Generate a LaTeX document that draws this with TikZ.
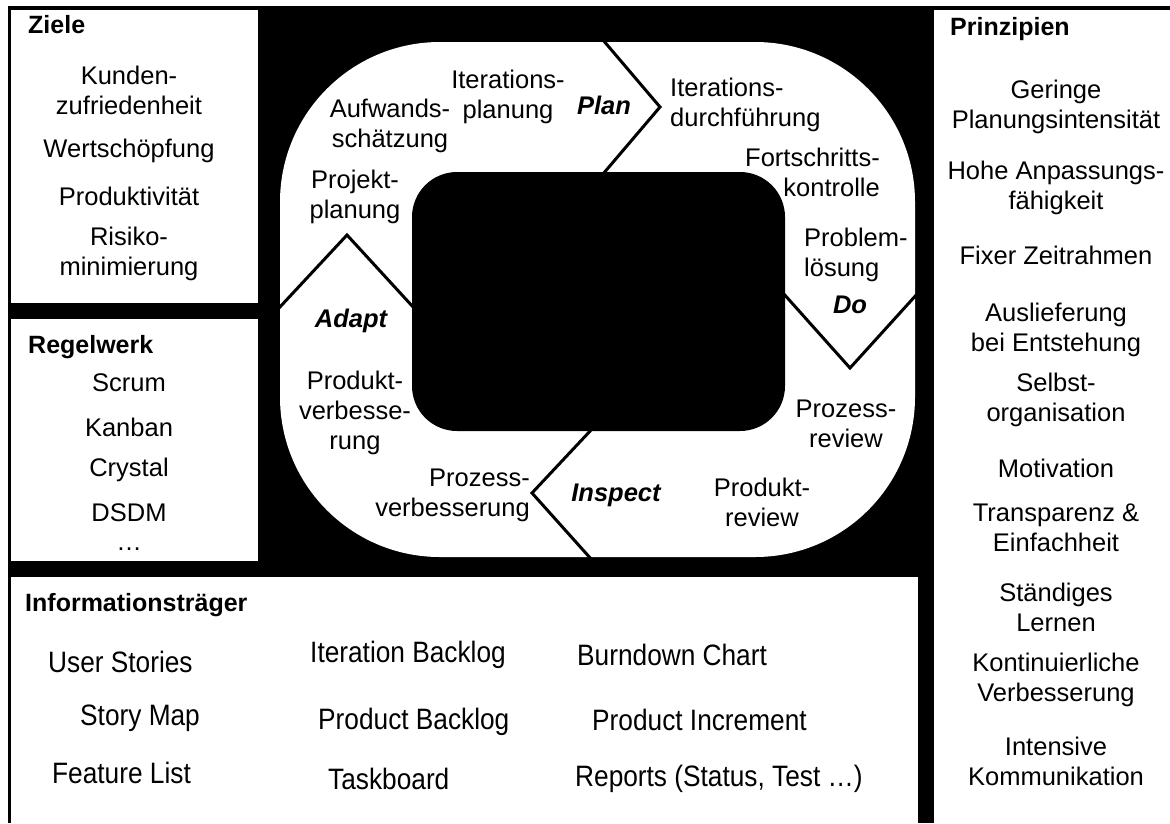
\documentclass[tikz,border=0pt]{standalone}
\usepackage{fontspec}
\setmainfont{Liberation Sans}
\newfontfamily\narrowfont[FakeStretch=0.89]{Liberation Sans}
\begin{document}
\begin{tikzpicture}[x=1pt,y=-1pt,
  txt/.style={inner sep=0pt, font=\fontsize{25.5}{30}\selectfont, align=center},
  txtl/.style={txt, align=left},
  txtr/.style={txt, align=right},
  head/.style={inner sep=0pt, anchor=west, font=\fontsize{25}{30}\selectfont\bfseries},
  phase/.style={inner sep=0pt, font=\fontsize{25.5}{30}\selectfont\bfseries\itshape},
  info/.style={inner sep=0pt, anchor=west, font=\narrowfont\fontsize{29.5}{34}\selectfont},
  panel/.style={fill=white},
  gap/.style={line width=3pt, line join=miter}
]
\useasboundingbox (0,0) rectangle (1170,823);
\fill[white] (0,0) rectangle (1170,823);
\fill[black] (8,6) rectangle (1170,823);
% panels
\fill[panel] (11,10) rectangle (258,303);
\fill[panel] (11,319) rectangle (258,561);
\fill[panel] (11,577) rectangle (918,823);
\fill[panel] (934,10) rectangle (1170,823);
% cycle ring
\fill[white, rounded corners=160pt] (280,42) rectangle (915,557);
\fill[black, rounded corners=45pt] (412,172) rectangle (785,431);
% chevron gaps
\coordinate (pa) at (603,40); \coordinate (pb) at (660,107); \coordinate (pc) at (603,174);
\coordinate (da) at (783,293); \coordinate (db) at (850,368); \coordinate (dc) at (918,293);
\coordinate (ia) at (592,429); \coordinate (ib) at (532,493); \coordinate (ic) at (592,560);
\coordinate (aa) at (279,308); \coordinate (ab) at (347,235); \coordinate (ac) at (414,308);
\draw[gap] (pa) -- (pb) -- (pc);
\draw[gap] (da) -- (db) -- (dc);
\draw[gap] (ia) -- (ib) -- (ic);
\draw[gap] (aa) -- (ab) -- (ac);
% Ziele
\node[head] (ziele) at (28,25) {Ziele};
\node[txt] (z1) at (129,90) {Kunden-\\zufriedenheit};
\node[txt] (z2) at (129,151) {Wertschöpfung};
\node[txt] (z3) at (129,196) {Produktivität};
\node[txt] (z4) at (129,254) {Risiko-\\minimierung};
% Regelwerk
\node[head] (regel) at (28,347) {Regelwerk};
\node[txt] (r1) at (129,383) {Scrum};
\node[txt] (r2) at (129,427) {Kanban};
\node[txt] (r3) at (129,470) {Crystal};
\node[txt] (r4) at (129,513) {DSDM};
\node[txt] (r5) at (129,549) {…};
% Informationstraeger
\node[head] (info) at (25,605) {Informationsträger};
\node[info] (b1) at (48,662) {User Stories};
\node[info] (b2) at (80,718) {Story Map};
\node[info] (b3) at (52,773) {Feature List};
\node[info] (b4) at (310,655) {Iteration Backlog};
\node[info] (b5) at (318,722) {Product Backlog};
\node[info] (b6) at (328,779) {Taskboard};
\node[info] (b7) at (577,655) {Burndown Chart};
\node[info] (b8) at (592,720) {Product Increment};
\node[info] (b9) at (575,779) {Reports (Status, Test …)};
% Prinzipien
\node[head] (prin) at (950,29) {Prinzipien};
\node[txt] (q1) at (1056,107) {Geringe\\Planungsintensität};
\node[txt] (q2) at (1056,188) {Hohe Anpassungs-\\fähigkeit};
\node[txt] (q3) at (1056,255) {Fixer Zeitrahmen};
\node[txt] (q4) at (1056,330) {Auslieferung\\bei Entstehung};
\node[txt] (q5) at (1056,400) {Selbst-\\organisation};
\node[txt] (q6) at (1056,468) {Motivation};
\node[txt] (q7) at (1056,528) {Transparenz \&\\Einfachheit};
\node[txt] (q8) at (1056,607) {Ständiges\\Lernen};
\node[txt] (q9) at (1056,680) {Kontinuierliche\\Verbesserung};
\node[txt] (q10) at (1056,761) {Intensive\\Kommunikation};
% cycle texts
\node[txt] (c1) at (508,97) {Iterations-\\planung};
\node[phase] (plan) at (604,105) {Plan};
\node[txt] (c2) at (390,126) {Aufwands-\\schätzung};
\node[txt] (c3) at (355,197) {Projekt-\\planung};
\node[txtl, anchor=west] (c4) at (670,105) {Iterations-\\durchführung};
\node[txtr, anchor=east] (c5) at (880,172) {Fortschritts-\\kontrolle};
\node[txtl, anchor=west] (c6) at (804,255) {Problem-\\lösung};
\node[phase] (do) at (850,305) {Do};
\node[txt] (c7) at (846,424) {Prozess-\\review};
\node[txt] (c8) at (762,502) {Produkt-\\review};
\node[phase] (insp) at (616,495) {Inspect};
\node[txtr, anchor=east] (c9) at (530,495) {Prozess-\\verbesserung};
\node[txt] (c10) at (355,413) {Produkt-\\verbesse-\\rung};
\node[phase] (adapt) at (351,321) {Adapt};
\end{tikzpicture}
\end{document}
